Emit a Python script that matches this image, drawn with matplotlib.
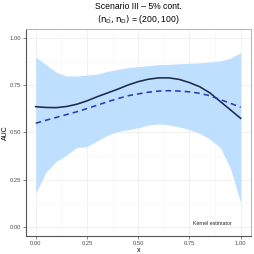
import numpy as np
import matplotlib
matplotlib.use("Agg")
import matplotlib.pyplot as plt

x_line = [0.0, 0.05, 0.1, 0.15, 0.2, 0.25, 0.3, 0.35, 0.4, 0.45, 0.5,
          0.55, 0.6, 0.65, 0.7, 0.75, 0.8, 0.85, 0.9, 0.95, 1.0]
auc_true = [0.637, 0.633, 0.632, 0.638, 0.650, 0.668, 0.690, 0.710, 0.730, 0.752, 0.770,
            0.783, 0.790, 0.790, 0.782, 0.765, 0.743, 0.710, 0.665, 0.620, 0.575]
auc_mean = [0.549, 0.565, 0.580, 0.595, 0.610, 0.627, 0.645, 0.663, 0.680, 0.695, 0.705,
            0.714, 0.720, 0.722, 0.720, 0.716, 0.708, 0.695, 0.675, 0.655, 0.634]

x_band = [0.0, 0.05, 0.1, 0.15, 0.2, 0.25, 0.3, 0.35, 0.4, 0.45, 0.5,
          0.55, 0.6, 0.65, 0.7, 0.75, 0.8, 0.85, 0.9, 0.95, 1.0]
band_lower = [0.177, 0.29, 0.345, 0.38, 0.42, 0.425, 0.455, 0.485, 0.505, 0.515, 0.525,
              0.54, 0.545, 0.54, 0.53, 0.515, 0.495, 0.465, 0.42, 0.31, 0.125]
band_upper = [0.90, 0.86, 0.82, 0.80, 0.80, 0.805, 0.81, 0.825, 0.835, 0.845, 0.85,
              0.855, 0.86, 0.862, 0.865, 0.868, 0.87, 0.875, 0.88, 0.895, 0.924]

ticks = [0.0, 0.25, 0.5, 0.75, 1.0]
tick_labels = ["0.00", "0.25", "0.50", "0.75", "1.00"]

plt.rcParams['font.family'] = ['Liberation Sans', 'DejaVu Sans']

fig = plt.figure(figsize=(2.54, 2.54), dpi=100)
ax = fig.add_axes([0.1004, 0.0709, 0.8876, 0.8151])

ax.fill_between(x_band, band_lower, band_upper, color='#BFDFFF', linewidth=0, zorder=2)
ax.plot(x_line, auc_true, color='#1C2B4A', lw=1.15, zorder=3)
ax.plot(x_line, auc_mean, color='#2A3CB8', lw=1.15, ls=(0, (3.5, 2.5)), zorder=4)

ax.set_xlim(-0.05, 1.05)
ax.set_ylim(-0.05, 1.05)
ax.set_xticks(ticks)
ax.set_xticklabels(tick_labels)
ax.set_yticks(ticks)
ax.set_yticklabels(tick_labels)
minor = [0.125, 0.375, 0.625, 0.875]
ax.set_xticks(minor, minor=True)
ax.set_yticks(minor, minor=True)
ax.grid(True, which='major', color='#EBEBEB', lw=0.5, zorder=0)
ax.grid(True, which='minor', color='#F5F5F5', lw=0.4, zorder=0)
ax.set_axisbelow(True)
ax.tick_params(which='major', labelsize=4.2, length=2, width=0.5, color='#555555',
               labelcolor='#4D4D4D', pad=1.5)
ax.tick_params(which='minor', length=0)
for s in ['left', 'bottom']:
    ax.spines[s].set_color('#555555')
    ax.spines[s].set_linewidth(0.8)
for s in ['top', 'right']:
    ax.spines[s].set_color('#B3B3B3')
    ax.spines[s].set_linewidth(0.7)

ax.set_xlabel('x', fontsize=5, labelpad=1)
ax.set_ylabel('AUC', fontsize=5, va='center')
ax.yaxis.set_label_coords(-0.09, 0.5)

fig.text(0.545, 0.975, 'Scenario III – 5% cont.', ha='center', va='center', fontsize=6.2)
fig.text(0.545, 0.925, r'$(\mathrm{n}_{\bar{\mathrm{D}}}, \mathrm{n}_{\mathrm{D}})$ = (200, 100)',
         ha='center', va='center', fontsize=6.2)

ax.text(0.956, 0.018, 'Kernel estimator', ha='right', va='center', fontsize=3.8, color='#222222')

fig.savefig('out.png', dpi=100)
